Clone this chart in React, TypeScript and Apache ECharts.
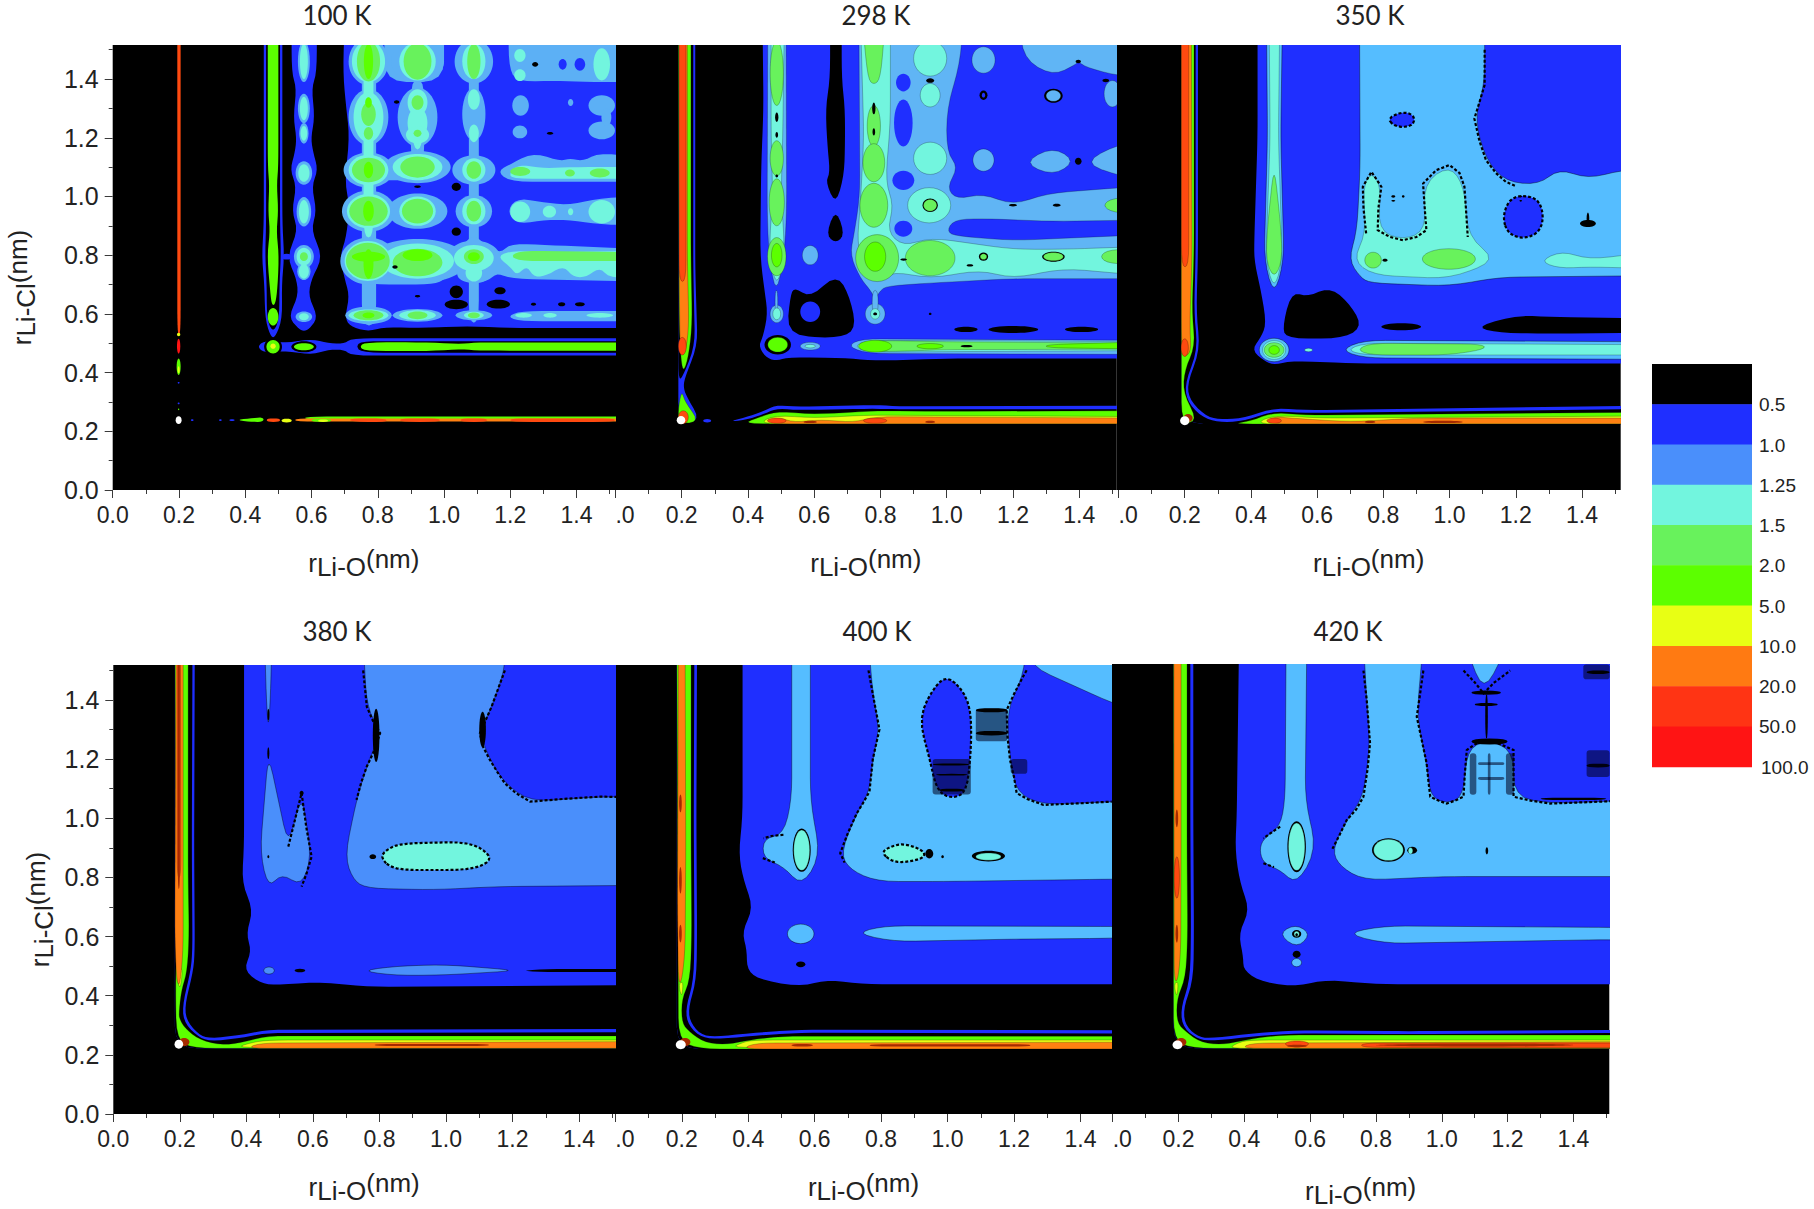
import React, { useEffect, useRef } from "react";
import * as echarts from "echarts";

type Shape = { l: number; p?: number[]; e?: number[]; r?: boolean; d?: boolean };
const P = (l: number, ...p: number[]): Shape => ({ l, p });
const R = (l: number, ...p: number[]): Shape => ({ l, p, r: true });
const D = (...p: number[]): Shape => ({ l: 0, p, d: true });
const E = (l: number, ...e: number[]): Shape => ({ l, e });

const legendLabels = ["0.5", "1.0", "1.25", "1.5", "2.0", "5.0", "10.0", "20.0", "50.0", "100.0"];
const legendColors = ["#000000", "#1f2fff", "#4a8ffb", "#72f5de", "#68f25c", "#5cff00", "#e8ff14", "#ff7a12", "#ff3414", "#ff1414"];
const levelColors = ["#000000", "#1f2fff", "#4a8ffb", "#72f5de", "#68f25c", "#5cff00", "#e8ff14", "#ff8012", "#ff4a10", "#ff1414", "#a52a00", "#ffffff", "rgba(0,0,30,0.55)"];
const panelTitles = ["100 K", "298 K", "350 K", "380 K", "400 K", "420 K"];
const level2Colors = ["#5cb0f5", "#60b5f5", "#55bdff", "#4a8ffb", "#55bdff", "#55bdff"];
const majorTicks = [0, 0.2, 0.4, 0.6, 0.8, 1.0, 1.2, 1.4];
const minorTicks = [0.1, 0.3, 0.5, 0.7, 0.9, 1.1, 1.3, 1.5];

const panel100K: Shape[] = [
  P(1, .70,1.6,.695,1.42,.705,1.3,.715,1.2,.70,1.05,.715,.97,.705,.86,.685,.795,.70,.72,.715,.66,.70,.585,.72,.555,.772,.54,.82,.555,.92,.552,1.07,.558,1.2,.552,1.6,.552,1.6,1.6),
  P(1, .54,1.6,.54,1.42,.555,1.37,.545,1.27,.555,1.2,.55,1.15,.535,1.09,.555,1.035,.54,.95,.56,.885,.525,.795,.555,.72,.56,.66,.53,.59,.56,.55,.577,.54,.595,.55,.62,.59,.59,.66,.6,.72,.635,.795,.598,.885,.616,.95,.6,1.035,.62,1.09,.605,1.15,.598,1.2,.61,1.27,.6,1.37,.616,1.42,.616,1.6),
  P(1, .51,.805,.54,.805,.54,.785,.51,.785),
  P(1, .456,1.6,.456,.9,.45,.795,.458,.7,.46,.58,.478,.52,.49,.52,.512,.58,.51,.7,.518,.795,.512,.9,.512,1.6),
  P(0, .463,1.6,.463,.9,.46,.8,.465,.7,.465,.58,.484,.535,.503,.58,.503,.7,.508,.8,.505,.9,.505,1.6),
  P(5, .468,1.6,.468,1.1,.473,1.04,.469,.95,.475,.88,.466,.80,.475,.68,.48,.63,.49,.63,.497,.68,.502,.80,.494,.88,.5,.95,.495,1.04,.5,1.1,.5,1.6),
  E(5, .484,.59,.016,.03),
  P(1, .435,.488,.46,.51,.52,.50,.6,.515,.65,.50,.7,.498,.72,.517,1.6,.517,1.6,.458,.72,.458,.7,.478,.65,.478,.6,.46,.52,.475,.46,.466),
  E(0, .484,.488,.027,.03), E(5, .484,.488,.02,.023), E(6, .484,.49,.008,.009),
  E(0, .577,.488,.038,.019), E(5, .577,.488,.03,.012),
  P(0, .735,.49,.75,.507,1.6,.507,1.6,.468,.75,.468),
  P(5, .745,.488,.76,.503,.95,.503,1.05,.497,1.1,.503,1.6,.502,1.6,.474,1.1,.475,1.05,.48,.95,.473,.76,.474),
  E(2, .577,1.46,.018,.07), E(2, .577,1.3,.018,.05), E(2, .577,1.215,.014,.035), E(2, .577,1.08,.025,.04), E(2, .577,.948,.022,.05), E(2, .577,.795,.03,.04), E(2, .577,.745,.02,.03), E(2, .577,.59,.025,.018),
  E(3, .577,1.46,.012,.06), E(3, .577,1.3,.012,.04), E(3, .577,1.215,.01,.025), E(3, .577,1.08,.017,.03), E(3, .577,.948,.015,.04), E(3, .577,.795,.022,.03), E(3, .577,.745,.015,.025), E(3, .577,.59,.015,.012), E(4, .577,.795,.012,.015),
  // ---- level 2 lattice
  P(2, .752,1.6,.752,.56,.795,.56,.795,1.6),
  P(2, 1.075,1.6,1.075,.57,1.105,.57,1.105,1.6),
  P(2, .82,1.6,.82,1.39,1.0,1.39,1.0,1.6),
  P(2, .90,1.4,.90,1.10,.94,1.10,.94,1.4),
  E(2, .772,1.46,.06,.08), E(2, .772,1.27,.06,.095), E(2, .772,1.09,.075,.06), E(2, .772,.95,.08,.07), E(2, .772,.78,.085,.08), E(2, .772,.595,.07,.03),
  E(2, .92,1.46,.08,.07), E(2, .92,1.27,.06,.1), E(2, .92,1.10,.1,.055), E(2, .92,.95,.09,.06), E(2, .92,.78,.15,.075), E(2, .92,.595,.075,.022),
  E(2, 1.09,1.46,.058,.075), E(2, 1.09,1.28,.035,.09), E(2, 1.09,1.09,.065,.05), E(2, 1.09,.95,.055,.055), E(2, 1.09,.79,.08,.06), E(2, 1.09,.735,.05,.03), E(2, 1.09,.595,.055,.017),
  E(2, .85,1.08,.08,.025), E(2, .86,.948,.03,.012),
  P(2, .70,.75,.72,.71,.80,.70,.95,.70,1.0,.71,1.03,.77,1.07,.70,1.13,.71,1.16,.74,1.2,.72,1.6,.71,1.6,.82,1.3,.835,1.2,.84,1.17,.805,1.12,.84,1.09,.87,1.06,.84,1.03,.795,.98,.84,.92,.86,.85,.82,.78,.845,.72,.84),
  P(2, 1.16,1.085,1.2,1.11,1.27,1.15,1.35,1.12,1.38,1.13,1.42,1.12,1.47,1.15,1.6,1.13,1.6,1.05,1.2,1.05),
  P(2, 1.19,.95,1.22,.995,1.3,.98,1.38,.97,1.47,.995,1.6,1.0,1.6,.9,1.47,.905,1.38,.92,1.3,.92,1.22,.905),
  P(2, 1.19,.59,1.23,.61,1.6,.61,1.6,.575,1.23,.575),
  P(2, 1.195,1.6,1.195,1.44,1.22,1.39,1.33,1.395,1.42,1.39,1.6,1.39,1.6,1.6),
  E(2, 1.231,1.31,.025,.035), E(2, 1.382,1.32,.008,.012), E(2, 1.476,1.31,.04,.035), E(2, 1.229,1.22,.022,.022), E(2, 1.476,1.225,.04,.03), E(2, 1.49,1.27,.015,.03),
  // ---- level 3
  P(3, .757,1.6,.757,.86,.787,.86,.787,1.6),
  P(3, .905,1.35,.905,1.16,.935,1.16,.935,1.35),
  E(3, .772,1.46,.05,.07), E(3, .772,1.27,.045,.085), E(3, .772,1.09,.06,.052), E(3, .772,.95,.065,.058), E(3, .77,.78,.07,.068), E(3, .772,.595,.06,.02),
  E(3, .92,1.46,.055,.065), E(3, .92,1.32,.03,.045), E(3, .92,1.25,.03,.055), E(3, .92,1.21,.035,.03), E(3, .92,1.10,.075,.045), E(3, .92,.95,.055,.05), E(3, .92,.78,.11,.06), E(3, .92,.595,.055,.017),
  E(3, 1.09,1.46,.035,.06), E(3, 1.09,1.33,.018,.035), E(3, 1.09,1.215,.015,.03), E(3, 1.09,1.09,.035,.04), E(3, 1.09,.95,.035,.045), E(3, 1.09,.79,.06,.045), E(3, 1.09,.74,.025,.03), E(3, 1.09,.595,.03,.012),
  P(3, 1.16,.795,1.2,.815,1.3,.81,1.6,.815,1.6,.73,1.5,.72,1.47,.76,1.43,.725,1.39,.725,1.36,.765,1.31,.73,1.27,.725,1.25,.765,1.22,.73,1.2,.76),
  P(3, 1.2,1.085,1.23,1.11,1.3,1.095,1.37,1.10,1.6,1.10,1.6,1.06,1.2,1.06),
  E(3, 1.229,1.48,.017,.022), E(3, 1.229,1.413,.017,.02), E(3, 1.476,1.45,.025,.055), E(3, 1.23,.948,.03,.035), E(3, 1.318,.948,.02,.02), E(3, 1.382,.948,.008,.012), E(3, 1.476,.948,.04,.04),
  E(3, 1.24,.595,.025,.008), E(3, 1.32,.595,.02,.008), E(3, 1.47,.595,.04,.008),
  // ---- level 4 and 5
  E(4, .772,1.46,.035,.068), E(4, .772,1.28,.022,.04), E(4, .772,1.215,.014,.022), E(4, .772,1.09,.05,.042), E(4, .772,.95,.058,.05), E(4, .77,.78,.066,.062), E(4, .772,.595,.045,.017),
  E(4, .92,1.46,.042,.062), E(4, .92,1.32,.018,.025), E(4, .92,1.215,.012,.012), E(4, .92,1.10,.052,.036), E(4, .92,.95,.047,.042), E(4, .92,.775,.075,.047), E(4, .92,.595,.03,.013),
  E(4, 1.09,1.46,.02,.06), E(4, 1.09,1.09,.022,.03), E(4, 1.09,.95,.022,.035), E(4, 1.09,.795,.03,.025), E(4, 1.09,.595,.018,.01),
  P(4, 1.2,.797,1.23,.815,1.6,.81,1.6,.78,1.23,.78),
  E(4, 1.23,1.085,.03,.015), E(4, 1.38,1.08,.015,.012), E(4, 1.47,1.08,.03,.015),
  E(5, .772,1.46,.014,.06), E(5, .772,1.32,.01,.018), E(5, .772,1.09,.014,.028), E(5, .772,.95,.016,.035), E(5, .772,.795,.05,.017), E(5, .772,.77,.015,.05), E(5, .772,.595,.018,.01),
  E(5, .92,.80,.045,.02), E(5, 1.09,.795,.018,.015),
  // ---- holes
  E(1, 1.358,1.45,.012,.018), E(1, 1.41,1.45,.016,.022),
  E(0, 1.275,1.45,.009,.008), E(0, 1.037,1.033,.014,.014), E(0, 1.037,.88,.014,.014), E(0, 1.037,.675,.02,.022), E(0, 1.037,.632,.035,.016), E(0, 1.169,.679,.017,.012), E(0, 1.164,.633,.035,.015),
  E(0, 1.27,.633,.008,.005), E(0, 1.355,.633,.011,.007), E(0, 1.41,.633,.015,.007), E(0, .92,.66,.008,.004), E(0, .852,.76,.008,.006), E(0, .857,1.322,.008,.006), E(0, 1.32,1.215,.01,.005), E(0, .92,1.033,.01,.004),
  // ---- the line at 0.2 and the one at 0.24
  P(8, .195,1.6,.195,.55,.2,.52,.205,.55,.205,1.6),
  E(5, .199,.42,.006,.028), E(6, .199,.41,.003,.012), E(6, .199,.53,.005,.006), E(9, .199,.49,.005,.025),
  E(1, .199,.365,.003,.003), E(1, .199,.295,.003,.003), E(5, .199,.275,.002,.003), E(1, .24,.238,.004,.003), E(1, .325,.238,.004,.003), E(1, .36,.238,.008,.003),
  P(5, .37,.238,.42,.245,.455,.248,.455,.232,.42,.232),
  P(5, .58,.24,1.6,.24,1.6,.25,.58,.25),
  P(7, .55,.233,1.6,.233,1.6,.244,.55,.244),
  P(8, .465,.232,.505,.232,.505,.244,.465,.244), P(6, .51,.23,.54,.23,.54,.243,.51,.243), P(5, .6,.232,.66,.232,.66,.242,.6,.242), P(6, .62,.232,.65,.232,.65,.24,.62,.24),
  P(8, .716,.233,.827,.23,.827,.244,.716,.244), P(8, .867,.232,.988,.232,.988,.244,.867,.244), P(8, 1.05,.232,1.13,.232,1.13,.244,1.05,.244), P(8, 1.2,.232,1.516,.232,1.516,.244,1.2,.244),
  E(11, .199,.238,.009,.013),
];

const panel298K: Shape[] = [
  P(1, .444,1.6,.447,1.3,.44,1.1,.437,.795,.45,.68,.46,.6,.445,.52,.432,.49,.455,.45,.487,.44,.52,.452,.7,.45,.78,.44,1.0,.448,1.6,.448,1.6,1.6),
  P(0, .648,1.6,.648,1.4,.634,1.3,.64,1.17,.648,1.08,.634,1.05,.665,.97,.69,1.07,.693,1.17,.693,1.3,.683,1.4,.683,1.6),
  P(0, .665,.96,.635,.87,.665,.84,.693,.87),
  P(0, .54,.692,.588,.653,.668,.738,.708,.658,.728,.545,.668,.516,.517,.528,.527,.658),
  E(1, .588,.607,.03,.035),
  E(0, 1.058,.547,.035,.009), E(0, 1.201,.547,.075,.012), E(0, 1.407,.547,.05,.009), E(0, .95,.6,.004,.004),
  P(2, .46,1.6,.458,.95,.463,.80,.485,.66,.51,.80,.517,.95,.515,1.6),
  E(2, .487,.60,.02,.03), P(2, .482,.68,.49,.68,.49,.6,.482,.6), E(3, .487,.60,.012,.02),
  E(2, .588,.80,.024,.033),
  P(2, .735,1.6,.738,1.0,.72,.87,.708,.80,.74,.72,.77,.68,.784,.65,.80,.68,.82,.695,.95,.705,1.2,.72,1.6,.72,1.6,.87,1.2,.85,1.03,.865,1.0,.88,1.02,.92,1.1,.925,1.32,.915,1.6,.92,1.6,1.03,1.52,1.03,1.3,1.01,1.2,.97,1.11,1.01,1.03,.99,1.0,1.03,1.035,1.1,1.0,1.15,1.0,1.3,1.04,1.45,1.05,1.6),
  E(2, .784,.60,.03,.035), P(2, .775,.68,.793,.68,.793,.6,.775,.6), E(3, .784,.60,.014,.018), E(0, .784,.60,.006,.005),
  E(1, .869,1.388,.022,.03), E(1, .869,1.25,.028,.08), E(1, .869,1.055,.033,.033), E(1, .869,.89,.027,.027),
  E(2, 1.111,1.465,.035,.045), E(2, 1.111,1.124,.032,.038), E(2, 1.5,1.35,.025,.045),
  P(2, 1.22,1.6,1.23,1.47,1.32,1.41,1.39,1.45,1.397,1.46,1.42,1.44,1.52,1.41,1.6,1.41,1.6,1.6),
  P(2, 1.23,1.115,1.32,1.17,1.39,1.12,1.32,1.07),
  P(2, 1.41,1.115,1.52,1.18,1.6,1.18,1.6,1.06,1.52,1.07),
  E(0, 1.111,1.345,.012,.016), E(1, 1.111,1.345,.005,.008),
  E(0, 1.322,1.343,.028,.024), E(2, 1.322,1.343,.022,.019), E(0, 1.397,1.46,.008,.006), E(0, 1.397,1.12,.01,.012), E(0, 1.48,1.395,.01,.006), E(0, .95,1.395,.012,.008),
  // ---- level 3
  P(3, .47,1.6,.47,1.2,.475,1.0,.465,.85,.47,.76,.487,.7,.505,.76,.51,.85,.50,1.0,.505,1.2,.51,1.6),
  P(3, .74,1.6,.75,1.2,.738,.95,.73,.85,.745,.76,.784,.71,.84,.745,.95,.72,1.1,.75,1.2,.72,1.35,.755,1.6,.73,1.6,.83,1.35,.82,1.2,.82,.95,.86,.869,.83,.82,.88,.84,.97,.815,1.05,.83,1.25,.83,1.6),
  E(3, .95,1.47,.05,.06), E(3, .95,1.345,.03,.04), E(3, .95,1.13,.05,.055), E(3, .947,.97,.065,.06),
  E(4, .487,.795,.028,.065), E(4, .487,.98,.023,.08), E(4, .487,1.13,.02,.06), E(4, .487,1.42,.02,.11),
  P(4, .745,1.6,.762,1.4,.78,1.38,.80,1.4,.815,1.6), E(4, .78,1.24,.02,.07), E(4, .78,1.115,.033,.065), E(4, .78,.97,.042,.075), E(4, .79,.79,.065,.08), E(4, .95,.79,.075,.06),
  E(0, .95,.97,.023,.023), E(4, .95,.97,.02,.02), E(0, 1.111,.795,.014,.014), E(4, 1.111,.795,.01,.01), E(0, 1.322,.795,.034,.017), E(4, 1.322,.795,.03,.014),
  P(4, 1.46,.795,1.49,.82,1.6,.82,1.6,.77,1.49,.77),
  P(4, 1.47,.97,1.5,.995,1.6,1.0,1.6,.94,1.5,.945),
  E(5, .487,.80,.016,.04), E(5, .784,.795,.032,.05),
  E(0, .487,1.27,.005,.016), E(0, .487,1.21,.004,.01), E(0, .487,1.07,.004,.005), E(0, .78,1.3,.005,.02), E(0, .78,1.22,.004,.012), E(0, 1.332,.97,.012,.005), E(0, .87,.785,.01,.004), E(0, 1.07,.765,.01,.004), E(0, 1.2,.97,.012,.004),
  // ---- ridge at 0.49
  E(0, .49,.495,.04,.033), E(5, .49,.495,.03,.025),
  E(2, .588,.49,.03,.013), E(3, .588,.49,.016,.006),
  P(2, .70,.49,.74,.515,1.6,.51,1.6,.462,.76,.465),
  P(3, .72,.49,.76,.51,1.6,.505,1.6,.475,.76,.47),
  P(4, .74,.49,.78,.51,1.0,.505,1.6,.5,1.6,.48,1.0,.478,.78,.47),
  E(5, .784,.49,.05,.02), E(5, .95,.49,.04,.009), P(5, 1.3,.495,1.6,.505,1.6,.48,1.3,.485),
  E(0, 1.06,.49,.018,.004),
  // ---- the L
  P(1, .19,1.6,.241,1.6,.241,.75,.245,.6,.248,.49,.21,.385,.205,.35,.215,.318,.258,.236,.19,.225),
  P(0, .19,1.6,.235,1.6,.235,.75,.238,.6,.24,.49,.205,.39,.19,.37),
  P(5, .19,1.6,.228,1.6,.228,.8,.232,.56,.22,.45,.205,.4,.197,.45,.192,.6),
  P(7, .192,1.6,.217,1.6,.217,.8,.222,.55,.21,.46,.195,.47,.192,.8),
  P(8, .192,1.6,.213,1.6,.213,.71,.192,.71),
  E(8, .202,.49,.012,.03),
  P(5, .2,.34,.21,.3,.255,.232,.19,.225,.19,.28),
  E(8, .205,.248,.015,.022),
  E(1, .277,.236,.012,.006),
  P(1, .34,.232,.40,.25,.45,.27,.487,.29,.55,.283,.784,.29,.85,.285,1.6,.287,1.6,.275,.85,.275,.784,.277,.55,.272,.487,.278,.45,.26,.40,.24),
  P(5, .38,.226,.44,.25,.487,.268,.6,.258,.72,.265,.784,.27,1.0,.268,1.6,.27,1.6,.226),
  P(6, .43,.226,.48,.255,.6,.245,.75,.255,1.6,.25,1.6,.226),
  P(7, .46,.226,.49,.248,.54,.23,.62,.24,.72,.23,.784,.25,1.6,.245,1.6,.226),
  E(8, .487,.236,.028,.009), E(8, .784,.236,.035,.009), E(10, .588,.232,.02,.004), E(10, .95,.232,.015,.004),
  E(11, .198,.238,.013,.014),
];

const panel350K: Shape[] = [
  P(1, .42,1.6,.42,1.2,.41,.85,.41,.78,.43,.68,.447,.567,.43,.52,.402,.477,.44,.44,.47,.426,.52,.44,.72,.431,1.6,.431,1.6,1.6),
  P(0, .522,.675,.572,.658,.638,.692,.698,.636,.738,.556,.678,.516,.507,.516,.495,.556),
  E(0, .854,.556,.06,.012),
  P(0, 1.075,.555,1.2,.595,1.3,.59,1.6,.585,1.6,.535,1.3,.533,1.15,.535),
  P(2, .728,1.6,.73,1.1,.72,.88,.695,.785,.73,.725,.76,.705,1.0,.695,1.15,.725,1.6,.73,1.6,1.09,1.52,1.09,1.418,1.06,1.33,1.095,1.27,1.04,1.17,1.05,1.11,1.124,1.075,1.265,1.106,1.38,1.106,1.6),
  D(1.106,1.5,1.106,1.38,1.09,1.32,1.075,1.265,1.09,1.19,1.11,1.124,1.14,1.08,1.17,1.05,1.2,1.035),
  R(1, 1.16,.93,1.18,.99,1.22,1.005,1.27,.99,1.285,.93,1.27,.875,1.22,.855,1.175,.875),
  E(0, 1.418,.908,.024,.012), E(0, 1.418,.925,.004,.02),
  R(1, .81,1.265,.86,1.29,.895,1.275,.89,1.24,.84,1.235),
  P(3, .708,.783,.769,.732,1.0,.72,1.145,.783,1.055,.862,1.045,1.033,1.0,1.107,.92,1.044,.93,.885,.859,.851,.783,.885,.794,1.033,.764,1.084,.738,1.033,.748,.874),
  D(.748,.874,.74,.96,.738,1.033,.764,1.084,.794,1.033,.785,.96,.783,.885,.82,.862,.859,.851,.9,.862,.93,.885,.925,.96,.92,1.044,.96,1.09,1.0,1.107,1.03,1.08,1.045,1.033,1.05,.95,1.055,.862),
  E(0, .83,1.0,.006,.004), E(0, .83,.985,.006,.003), E(0, .86,1.0,.004,.004), E(0, 1.215,1.0,.004,.003), E(0, 1.215,.985,.004,.003),
  E(4, .769,.783,.025,.027), E(4, .998,.787,.08,.035), E(0, .805,.783,.008,.005),
  P(3, 1.272,.78,1.34,.815,1.42,.785,1.6,.81,1.6,.755,1.42,.76,1.33,.755),
  // ---- column
  P(2, .447,1.6,.45,1.2,.44,.78,.47,.66,.5,.78,.49,1.2,.495,1.6),
  P(3, .455,1.6,.458,1.2,.445,.78,.47,.68,.495,.78,.483,1.2,.487,1.6),
  P(4, .47,1.11,.45,.9,.445,.78,.47,.72,.495,.78,.49,.9),
  // ---- ridge
  P(2, .67,.477,.74,.51,1.6,.505,1.6,.445,.74,.45),
  P(3, .69,.477,.74,.5,1.6,.495,1.6,.46,.74,.46),
  P(4, .72,.478,.76,.5,1.1,.497,1.11,.48,1.0,.46,.76,.46),
  E(2, .47,.477,.045,.04), E(3, .47,.477,.035,.032), E(4, .47,.477,.03,.025), E(5, .47,.477,.016,.015),
  E(3, .574,.477,.012,.006),
  // ---- the L
  P(1, .19,1.6,.24,1.6,.24,.8,.235,.6,.247,.477,.207,.363,.215,.306,.265,.25,.31,.24,.38,.245,.467,.28,.56,.272,1.6,.287,1.6,.225,.19,.225),
  P(0, .19,1.6,.233,1.6,.233,.8,.228,.6,.24,.477,.2,.363,.208,.3,.255,.245,.31,.23,.38,.235,.467,.27,.56,.262,1.6,.276,1.6,.225,.19,.225),
  P(5, .19,1.6,.228,1.6,.228,.8,.222,.6,.232,.49,.2,.41,.195,.33,.24,.235,.19,.225),
  P(5, .34,.225,.40,.235,.467,.265,.56,.255,1.6,.265,1.6,.225),
  P(6, .41,.225,.467,.255,.6,.245,1.6,.252,1.6,.225),
  P(7, .19,1.6,.22,1.6,.222,.8,.215,.55,.22,.47,.195,.45,.19,.5),
  P(8, .19,1.6,.212,1.6,.212,.76,.19,.76),
  E(8, .2,.485,.011,.03),
  P(7, .44,.226,.467,.25,.52,.245,.7,.232,.9,.245,1.6,.245,1.6,.226),
  E(8, .47,.236,.022,.009), E(10, .76,.232,.016,.004), E(10, .98,.232,.06,.004),
  E(10, .21,.245,.014,.014),
  E(11, .2,.236,.014,.015),
];

const panel380K: Shape[] = [
  P(1, .393,1.6,.393,.9,.386,.78,.421,.69,.399,.61,.416,.55,.391,.487,.441,.442,.491,.436,.621,.447,.762,.43,1.6,.436,1.6,1.6),
  P(2, .751,1.6,.762,1.377,.802,1.288,.762,1.175,.731,1.062,.696,.87,.721,.791,.761,.763,.962,.758,1.162,.769,1.6,.773,1.6,1.07,1.463,1.073,1.253,1.056,1.177,1.118,1.132,1.197,1.102,1.287,1.137,1.377,1.177,1.5,1.177,1.6),
  D(1.177,1.5,1.137,1.377,1.102,1.287,1.112,1.24,1.132,1.197,1.155,1.155,1.177,1.118,1.21,1.085,1.253,1.056,1.35,1.065,1.463,1.073,1.6,1.07),
  D(.751,1.5,.762,1.377,.78,1.33,.802,1.288,.785,1.23,.762,1.175,.745,1.12,.731,1.062),
  P(2, .455,1.6,.46,1.4,.466,1.3,.472,1.4,.477,1.6),
  P(2, .441,.882,.466,.763,.506,.814,.566,.769,.596,.87,.566,1.085,.526,.904,.466,1.22),
  D(.526,.904,.545,.99,.566,1.085,.58,.97,.596,.87,.58,.81,.566,.769),
  E(2, .468,.485,.016,.012), E(0, .561,.485,.016,.006),
  P(2, .741,.484,.85,.5,1.0,.505,1.22,.485,1.0,.47,.85,.468),
  P(0, 1.22,.484,1.3,.49,1.6,.49,1.6,.48,1.3,.48),
  R(3, .80,.87,.83,.9,.87,.915,1.07,.92,1.13,.88,1.13,.85,1.07,.825,.84,.825),
  E(0, .78,.87,.01,.008), E(0, .466,1.35,.003,.02), E(0, .466,1.22,.003,.02), E(0, .466,.87,.003,.005), E(0, .566,1.085,.006,.008),
  E(0, .79,1.28,.01,.09), E(0, 1.11,1.3,.01,.06),
  // ---- the L
  P(1, .185,1.6,.245,1.6,.243,.9,.245,.55,.24,.48,.215,.37,.22,.315,.26,.265,.295,.255,.40,.27,.46,.285,1.6,.288,1.6,.222,.185,.222),
  P(0, .185,1.6,.238,1.6,.236,.9,.238,.55,.232,.48,.208,.37,.212,.31,.255,.26,.295,.245,.40,.26,.46,.274,1.6,.277,1.6,.222,.185,.222),
  P(5, .185,1.6,.225,1.6,.225,.8,.228,.6,.222,.48,.205,.42,.197,.34,.2,.32,.215,.29,.26,.25,.33,.232,.4,.245,.46,.264,1.6,.264,1.6,.222,.24,.222,.19,.25,.187,.4,.19,.6),
  P(6, .19,.48,.21,.5,.2,.41),
  P(7, .188,1.6,.21,1.6,.21,.9,.21,.55,.2,.43,.19,.45,.185,.6),
  P(8, .192,1.6,.202,1.6,.203,.8,.192,.8),
  P(10, .194,1.6,.2,1.6,.2,.76,.194,.76),
  P(6, .37,.225,.41,.24,.46,.25,1.6,.25,1.6,.225),
  P(7, .40,.222,.44,.24,1.6,.245,1.6,.222),
  P(10, .785,.23,1.13,.23,1.13,.237,.785,.237),
  E(10, .213,.243,.016,.014),
  E(11, .197,.236,.013,.015),
];

const panel400K: Shape[] = [
  P(1, .383,1.6,.383,1.0,.371,.88,.386,.79,.416,.696,.381,.617,.396,.555,.396,.487,.436,.453,.561,.43,.637,.455,.737,.439,1.6,.439,1.6,1.6),
  P(2, .762,1.6,.775,1.42,.795,1.3,.775,1.2,.765,1.09,.727,1.017,.677,.882,.707,.825,.787,.786,.987,.786,1.494,.794,1.6,.794,1.6,1.056,1.494,1.056,1.288,1.045,1.208,1.085,1.188,1.197,1.178,1.366,1.228,1.48,1.238,1.6),
  D(.762,1.5,.775,1.42,.795,1.3,.785,1.25,.775,1.2,.765,1.09,.745,1.05,.727,1.017,.70,.95,.677,.882,.69,.85),
  D(1.238,1.5,1.228,1.48,1.2,1.42,1.178,1.366,1.18,1.28,1.188,1.197,1.2,1.14,1.208,1.085,1.24,1.065,1.288,1.045,1.39,1.05,1.494,1.056),
  R(1, .912,1.344,.967,1.457,1.007,1.48,1.067,1.4,1.073,1.265,1.058,1.083,1.007,1.067,.967,1.095,.947,1.197),
  P(2, 1.248,1.515,1.494,1.39,1.6,1.35,1.6,1.6,1.248,1.6),
  P(2, .531,1.6,.531,1.062,.506,.944,.446,.932,.444,.865,.506,.837,.561,.769,.617,.87,.587,1.062,.587,1.6),
  D(.506,.944,.47,.94,.446,.932),D(.444,.865,.48,.85),
  E(0, .561,.892,.027,.073), E(3, .561,.892,.024,.068),
  R(3, .80,.885,.83,.905,.87,.915,.93,.89,.93,.865,.87,.85,.83,.855),
  E(0, .945,.88,.012,.016), E(0, .985,.87,.004,.005),
  E(0, 1.123,.872,.05,.018), E(3, 1.123,.87,.038,.012),
  E(2, .558,.609,.04,.033), E(0, .558,.506,.014,.01),
  P(2, .722,.611,.807,.636,1.494,.634,1.6,.634,1.6,.6,1.494,.594,1.188,.591,.837,.583),
  // ---- fuzzy cells where the grid is coarse
  P(12, .955,1.2,1.07,1.2,1.07,1.08,.955,1.08),
  P(0, .955,1.185,1.065,1.185,1.065,1.178,.955,1.178), P(0, .965,1.15,1.06,1.15,1.06,1.144,.965,1.144), P(0, .975,1.10,1.05,1.10,1.05,1.09,.975,1.09),
  P(12, 1.085,1.37,1.18,1.37,1.18,1.26,1.085,1.26),
  P(0, 1.085,1.372,1.18,1.372,1.18,1.358,1.085,1.358), P(0, 1.085,1.295,1.18,1.295,1.18,1.28,1.085,1.28),
  P(12, 1.19,1.2,1.24,1.2,1.24,1.15,1.19,1.15),
  // ---- the L
  P(1, .185,1.6,.246,1.6,.244,1.0,.246,.6,.244,.45,.22,.36,.225,.31,.26,.265,.31,.262,.42,.275,.56,.285,1.6,.283,1.6,.22,.185,.22),
  P(0, .185,1.6,.238,1.6,.236,1.0,.238,.6,.236,.45,.212,.36,.217,.305,.255,.26,.31,.253,.42,.265,.56,.275,1.6,.272,1.6,.22,.185,.22),
  P(5, .185,1.6,.228,1.6,.228,.9,.23,.6,.225,.45,.2,.39,.2,.31,.22,.28,.27,.24,.34,.235,.40,.25,.5,.263,1.6,.263,1.6,.22,.25,.22,.19,.25),
  P(6, .19,.44,.205,.45,.2,.39),
  P(7, .19,1.6,.21,1.6,.212,.9,.21,.55,.2,.45,.19,.44,.187,.7),
  P(6, .35,.225,.38,.24,.41,.25,1.6,.25,1.6,.225),
  P(7, .38,.22,.42,.24,1.6,.243,1.6,.22),
  P(10, .53,.228,.595,.228,.595,.237,.53,.237), P(10, .765,.228,1.25,.228,1.25,.236,.765,.236),
  E(10, .196,1.05,.004,.03), E(10, .196,.79,.004,.045), E(10, .196,.61,.004,.03),
  E(10, .21,.243,.016,.014),
  E(11, .197,.234,.015,.015),
];

const panel420K: Shape[] = [
  P(1, .384,1.6,.377,1.0,.372,.893,.387,.78,.417,.69,.382,.611,.397,.532,.397,.487,.448,.448,.559,.43,.64,.455,.8,.439,1.6,.439,1.6,1.6),
  P(2, .762,1.6,.772,1.4,.782,1.254,.762,1.073,.711,.994,.666,.893,.691,.837,.762,.791,1.005,.803,1.6,.803,1.6,1.062,1.329,1.05,1.218,1.073,1.218,1.231,1.135,1.265,1.076,1.231,1.066,1.073,1.015,1.05,.965,1.073,.954,1.186,.924,1.344,.944,1.6),
  D(.762,1.5,.772,1.4,.782,1.254,.775,1.17,.762,1.073,.74,1.03,.711,.994,.69,.945,.666,.893),
  D(.944,1.5,.934,1.42,.924,1.344,.94,1.26,.954,1.186,.96,1.12,.965,1.073,.99,1.06,1.015,1.05,1.04,1.06,1.066,1.073,1.07,1.15,1.076,1.231,1.1,1.25,1.135,1.265,1.18,1.25,1.218,1.231,1.218,1.15,1.218,1.073,1.27,1.06,1.329,1.05,1.45,1.055,1.6,1.062),
  P(2, 1.066,1.6,1.127,1.423,1.208,1.6),
  D(1.066,1.5,1.1,1.46,1.127,1.423,1.16,1.46,1.208,1.5),
  P(0, 1.132,1.42,1.14,1.42,1.14,1.27,1.132,1.27),
  P(0, 1.09,1.432,1.18,1.432,1.18,1.418,1.09,1.418), P(0, 1.1,1.39,1.17,1.39,1.17,1.38,1.1,1.38),
  P(0, 1.09,1.27,1.2,1.27,1.2,1.25,1.09,1.25),
  P(12, 1.085,1.22,1.105,1.22,1.105,1.08,1.085,1.08), P(12, 1.195,1.22,1.22,1.22,1.22,1.08,1.195,1.08), P(12, 1.11,1.19,1.19,1.19,1.19,1.18,1.11,1.18), P(12, 1.11,1.14,1.19,1.14,1.19,1.13,1.11,1.13), P(12, 1.14,1.22,1.148,1.22,1.148,1.08,1.14,1.08),
  P(0, 1.44,1.185,1.51,1.185,1.51,1.172,1.44,1.172), P(12, 1.44,1.23,1.51,1.23,1.51,1.14,1.44,1.14), P(12, 1.43,1.52,1.51,1.52,1.51,1.47,1.43,1.47), P(0, 1.44,1.5,1.51,1.5,1.51,1.488,1.44,1.488), P(0, 1.3,1.07,1.5,1.07,1.5,1.062,1.3,1.062),
  P(2, .527,1.6,.524,1.062,.509,.972,.458,.932,.446,.893,.458,.848,.509,.825,.559,.775,.62,.893,.585,1.062,.59,1.6),
  D(.509,.972,.48,.95,.458,.932),D(.458,.848,.49,.835),
  E(0, .559,.904,.028,.086), E(3, .559,.904,.025,.08),
  E(0, .838,.893,.05,.04), E(3, .838,.893,.045,.036),
  E(0, .91,.892,.015,.012), E(3, .905,.89,.007,.011),
  E(0, 1.137,.89,.004,.012),
  P(2, .503,.609,.555,.643,.603,.609,.56,.56),
  E(0, .559,.609,.014,.013), E(3, .559,.609,.008,.009), E(0, .559,.606,.004,.005),
  E(0, .559,.54,.012,.012), E(2, .559,.512,.015,.014),
  P(2, .706,.611,.823,.636,1.512,.631,1.6,.631,1.6,.585,1.512,.59,.823,.577),
  // ---- the L
  P(1, .185,1.6,.245,1.6,.245,1.0,.247,.6,.245,.45,.215,.36,.22,.3,.26,.26,.3,.256,.42,.272,.55,.283,.9,.28,1.6,.285,1.6,.222,.185,.222),
  P(0, .185,1.6,.236,1.6,.236,1.0,.238,.6,.235,.45,.207,.36,.212,.295,.255,.255,.3,.246,.42,.262,.55,.273,.9,.27,1.6,.275,1.6,.222,.185,.222),
  P(5, .185,1.6,.226,1.6,.226,.9,.228,.6,.222,.46,.195,.39,.195,.31,.22,.28,.27,.24,.34,.235,.4,.25,.5,.267,1.6,.267,1.6,.222,.24,.222,.185,.25),
  P(6, .186,.44,.2,.45,.195,.39),
  P(7, .186,1.6,.208,1.6,.208,.9,.207,.55,.198,.45,.187,.45),
  P(6, .35,.222,.38,.24,.41,.25,1.6,.25,1.6,.222),
  P(7, .39,.222,.42,.24,1.6,.245,1.6,.222),
  P(8, .756,.225,1.6,.225,1.6,.24,.756,.24),
  E(10, 1.1,.233,.3,.005), E(8, .56,.237,.035,.01), E(10, .56,.23,.03,.004),
  E(10, .195,1.0,.004,.03), E(8, .195,.8,.008,.07), E(10, .195,.61,.004,.03),
  E(10, .208,.243,.016,.014),
  E(11, .197,.234,.015,.015),
];

const panelShapes = [panel100K, panel298K, panel350K, panel380K, panel400K, panel420K];

// layout of the six plots: [left, top, width, height, xMin, xMax, yMax]
const layouts = [
  [112.7, 45, 502.3, 445, 0, 1.516, 1.516],
  [615, 45, 501.7, 445, -0.0012, 1.513, 1.516],
  [1116.7, 45, 504, 445, -0.0055, 1.517, 1.516],
  [113.3, 665, 501.7, 449, 0, 1.508, 1.518],
  [615, 665, 497, 449, -0.001, 1.495, 1.518],
  [1112, 664, 497.3, 450, -0.002, 1.509, 1.522],
];
const titleX = [332, 871, 1365, 332, 872, 1343];
const titleTop = [-3, -3, -3, 613, 613, 613];
const xNameGap = [56, 56, 56, 56, 56, 60];
const outlineWidth = [0, 0.6, 1, 1, 1, 1];

function rounded(pts: number[][], R = 22) {
  const out: number[][] = [];
  const n = pts.length;
  for (let i = 0; i < n; i++) {
    const a = pts[(i + n - 1) % n], c = pts[i], b = pts[(i + 1) % n];
    const la = Math.hypot(a[0] - c[0], a[1] - c[1]) || 1;
    const lb = Math.hypot(b[0] - c[0], b[1] - c[1]) || 1;
    const da = Math.min(R, la / 2), db = Math.min(R, lb / 2);
    const s = [c[0] + ((a[0] - c[0]) * da) / la, c[1] + ((a[1] - c[1]) * da) / la];
    const e = [c[0] + ((b[0] - c[0]) * db) / lb, c[1] + ((b[1] - c[1]) * db) / lb];
    for (let k = 0; k <= 4; k++) {
      const t = k / 4, u = 1 - t;
      out.push([u * u * s[0] + 2 * u * t * c[0] + t * t * e[0], u * u * s[1] + 2 * u * t * c[1] + t * t * e[1]]);
    }
  }
  return out;
}

const axisColor = "#3a3a3a";
const labelColor = "#222";
const font = "Liberation Sans";

function buildOption() {
  const grid: any[] = [], xAxis: any[] = [], yAxis: any[] = [], series: any[] = [], title: any[] = [];
  const richBase = (size: number) => ({
    a: { fontSize: size, fontFamily: font, color: labelColor, verticalAlign: "middle", lineHeight: 34 },
    b: { fontSize: size, fontFamily: font, color: labelColor, verticalAlign: "bottom", lineHeight: 34 },
    c: { fontSize: size, fontFamily: font, color: labelColor, verticalAlign: "top", lineHeight: 34 },
  });
  layouts.forEach((g, i) => {
    const [left, top, width, height, xMin, xMax, yMax] = g;
    grid.push({ left, top, width, height, show: true, backgroundColor: "#000", borderWidth: 0, outerBoundsMode: "none", containLabel: false });
    title.push({ text: panelTitles[i], left: titleX[i], top: titleTop[i], textAlign: "center", textStyle: { fontFamily: "Lato", fontWeight: "normal", fontSize: 26, color: labelColor } });
    const firstLabel = i === 0 || i === 3 ? "0.0" : ".0";
    const xIdx = xAxis.length, yIdx = yAxis.length;
    xAxis.push({
      gridIndex: i, type: "value", min: xMin, max: xMax, position: "bottom",
      name: "{a|r}{b|Li-O}{c|(nm)}", nameLocation: "middle", nameGap: xNameGap[i],
      nameTextStyle: { rich: richBase(26) },
      axisLine: { show: false, onZero: false },
      axisTick: { show: true, length: 8, inside: false, customValues: majorTicks, lineStyle: { color: axisColor, width: 1 } },
      axisLabel: {
        show: true, margin: 13, color: labelColor, fontFamily: font, fontSize: 23,
        customValues: majorTicks, alignMinLabel: i === 0 || i === 3 ? "center" : "left",
        formatter: (v: number) => (v === 0 ? firstLabel : v.toFixed(1)),
      },
      splitLine: { show: false },
    });
    xAxis.push({
      gridIndex: i, type: "value", min: xMin, max: xMax, position: "bottom",
      axisLine: { show: false, onZero: false }, axisLabel: { show: false }, splitLine: { show: false },
      axisTick: { show: true, length: 4, customValues: minorTicks, lineStyle: { color: axisColor, width: 1 } },
    });
    const hasY = i === 0 || i === 3;
    yAxis.push({
      gridIndex: i, type: "value", min: 0, max: yMax, position: "left", show: hasY,
      name: hasY ? "{a|r}{b|Li-Cl}{c|(nm)}" : "", nameLocation: "middle", nameGap: i === 0 ? 74 : 56, nameRotate: 90,
      nameTextStyle: { rich: richBase(26), padding: [0, 40, 0, 0] },
      axisLine: { show: false, onZero: false },
      axisTick: { show: true, length: 8, customValues: majorTicks, lineStyle: { color: axisColor, width: 1 } },
      axisLabel: { show: true, margin: 14, color: labelColor, fontFamily: font, fontSize: 25, customValues: majorTicks, formatter: (v: number) => v.toFixed(1) },
      splitLine: { show: false },
    });
    if (hasY) {
      yAxis.push({
        gridIndex: i, type: "value", min: 0, max: yMax, position: "left",
        axisLine: { show: false, onZero: false }, axisLabel: { show: false }, splitLine: { show: false },
        axisTick: { show: true, length: 4, customValues: minorTicks, lineStyle: { color: axisColor, width: 1 } },
      });
    }
    const shapes = panelShapes[i];
    const colorOf = (l: number) => (l === 2 ? level2Colors[i] : levelColors[l]);
    series.push({
      type: "custom", coordinateSystem: "cartesian2d", xAxisIndex: xIdx, yAxisIndex: yIdx, clip: true, silent: true,
      data: shapes.map((s) => (s.p ? [s.p[0], s.p[1]] : [s.e![0], s.e![1]])),
      renderItem: (params: any, api: any) => {
        const s = shapes[params.dataIndex];
        if (s.d) {
          const line: number[][] = [];
          for (let k = 0; k + 1 < s.p!.length; k += 2) line.push(api.coord([s.p![k], s.p![k + 1]]));
          return { type: "polyline", shape: { points: line }, style: { stroke: "#000", lineWidth: 2.2, lineDash: [3, 2], fill: "none" } };
        }
        const style: any = { fill: colorOf(s.l) };
        if (s.r) {
          style.stroke = "#000";
          style.lineWidth = 2.2;
          style.lineDash = [3, 2];
        } else if (s.l >= 2 && s.l <= 8 && outlineWidth[i] > 0) {
          style.stroke = "rgba(0,0,0,0.4)";
          style.lineWidth = s.l === 2 ? outlineWidth[i] : 0.6;
        }
        if (s.e) {
          const c = api.coord([s.e[0], s.e[1]]);
          const sz = api.size([s.e[2], s.e[3]]);
          return { type: "ellipse", shape: { cx: c[0], cy: c[1], rx: sz[0], ry: sz[1] }, style };
        }
        const pts: number[][] = [];
        for (let k = 0; k + 1 < s.p!.length; k += 2) pts.push(api.coord([s.p![k], s.p![k + 1]]));
        return { type: "polygon", shape: { points: rounded(pts, s.l === 12 ? 3 : 22) }, style };
      },
    });
  });

  const legendLeft = 1652, legendTop = 364, legendW = 100, legendH = 40.27;
  const graphic: any[] = [];
  legendColors.forEach((c, i) => {
    graphic.push({ type: "rect", left: legendLeft, top: legendTop + i * legendH, shape: { width: legendW, height: legendH + 0.5 }, style: { fill: c } });
    graphic.push({ type: "text", left: legendLeft + (i === 9 ? 109 : 107), top: legendTop + (i + 1) * legendH - 9, style: { text: legendLabels[i], fontSize: 19, fontFamily: font, fill: labelColor } });
  });

  return { animation: false, backgroundColor: "#fff", grid, xAxis, yAxis, series, title, graphic };
}

export default function App() {
  const ref = useRef<HTMLDivElement>(null);
  useEffect(() => {
    const chart = echarts.init(ref.current!, undefined, { renderer: "svg" });
    chart.setOption(buildOption() as any);
    return () => chart.dispose();
  }, []);
  return <div ref={ref} style={{ position: "absolute", left: 0, top: 0, width: 1814, height: 1209, background: "#fff" }} />;
}
